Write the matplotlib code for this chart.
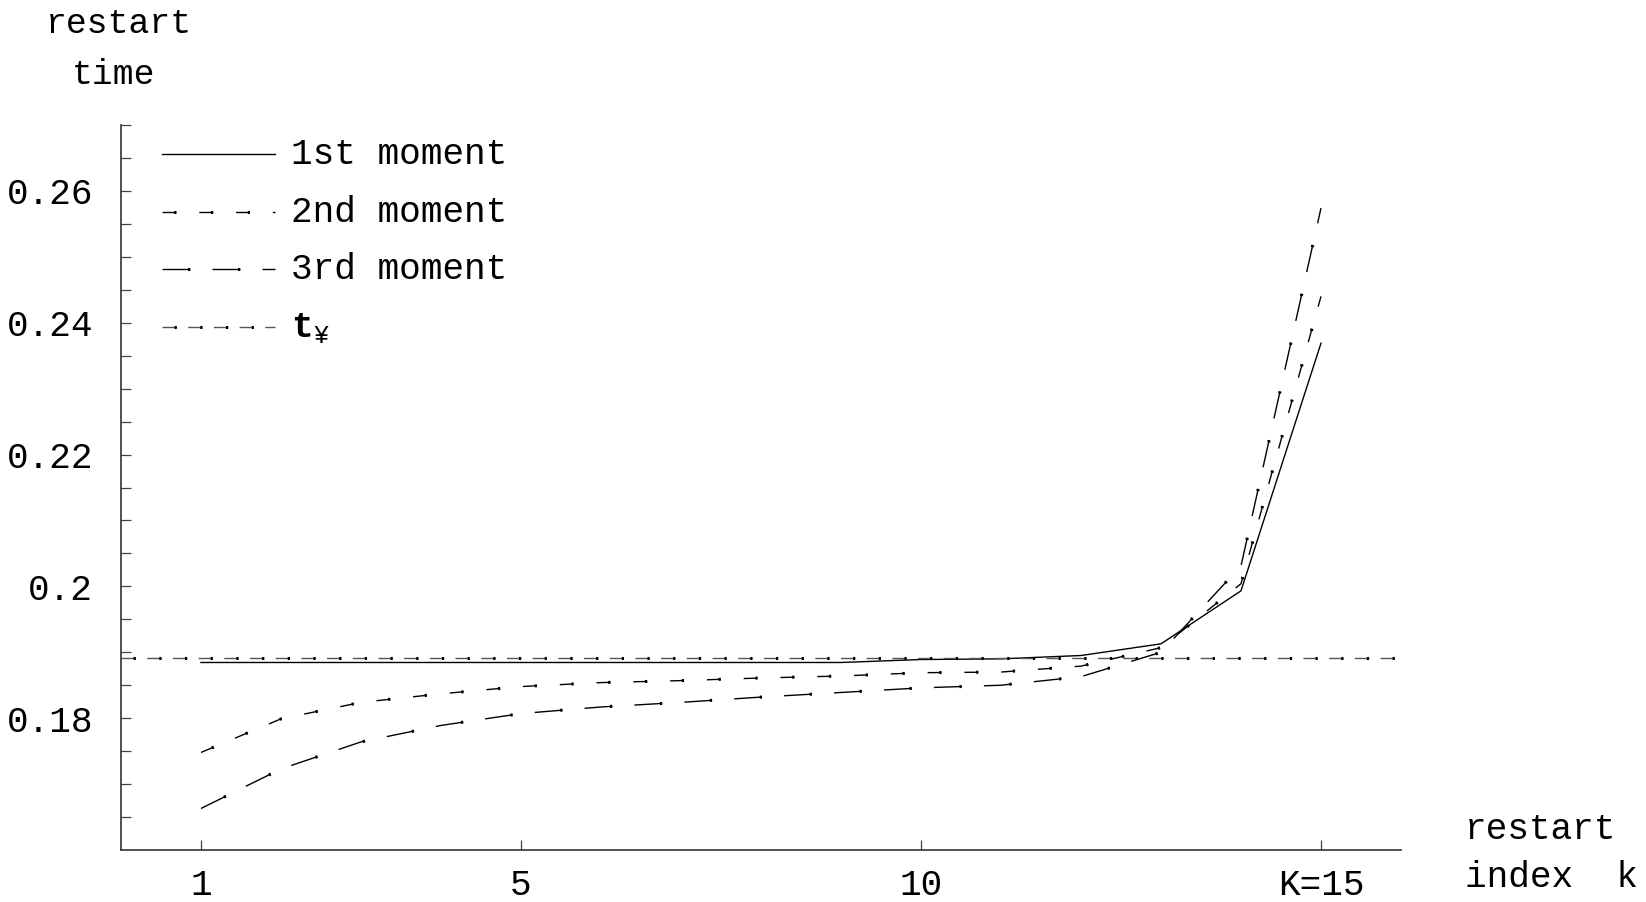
import numpy as np
import matplotlib
matplotlib.use("Agg")
import matplotlib.pyplot as plt

# restart index k and the computed restart times
k = [1, 2, 3, 4, 5, 6, 7, 8, 9, 10, 11, 12, 13, 14, 15]
first_moment = [0.18845, 0.18845, 0.18845, 0.18845, 0.18845, 0.18845, 0.18845, 0.18845,
                0.18845, 0.1889, 0.1890, 0.18951, 0.19128, 0.19932, 0.2369]
second_moment = [0.1748, 0.1799, 0.1824, 0.1837, 0.1848, 0.1854, 0.1857, 0.1861,
                 0.1864, 0.1869, 0.1870, 0.1879, 0.1907, 0.2004, 0.2440]
third_moment = [0.1663, 0.1723, 0.1764, 0.1789, 0.1807, 0.1817, 0.1824, 0.1832,
                0.1839, 0.1846, 0.1850, 0.1863, 0.1900, 0.2031, 0.2574]
t_inf = 0.1891

xtick_pos = [1, 5, 10, 15]
xtick_labels = ["1", "5", "10", "K=15"]
ytick_major = [0.18, 0.2, 0.22, 0.24, 0.26]
ytick_major_labels = ["0.18", "0.2", "0.22", "0.24", "0.26"]

legend_labels = ["1st moment", "2nd moment", "3rd moment", r"$\mathbf{t}_{¥}$"]

plt.rcParams["font.family"] = ["Liberation Mono", "DejaVu Sans Mono"]
plt.rcParams["mathtext.fontset"] = "custom"
plt.rcParams["mathtext.rm"] = "Liberation Mono"
plt.rcParams["mathtext.bf"] = "Liberation Mono:bold"
plt.rcParams["lines.scale_dashes"] = False

FS = 26
DOT = 1.6

fig = plt.figure(figsize=(16.46, 9.02), dpi=100)
W, H = 1646, 902
ax = fig.add_axes([121 / W, 1 - 850 / H, 1280 / W, 725 / H])


def dashed_with_dots(x, y, on, off, color="black", **kw):
    # dashed line, plus a small dot sitting at the end of every dash
    period = on + off
    ax.plot(x, y, color=color, lw=1.0, linestyle=(0, (on, off)),
            dash_capstyle="butt", **kw)
    ax.plot(x, y, color="black", lw=2.2,
            linestyle=(period - on + DOT, (DOT, period - DOT)),
            dash_capstyle="butt", **kw)


styles = [None, (10, 16.5, "black"), (20, 16, "black"), (10.3, 8.2, "#555555")]

ax.plot(k, first_moment, color="black", lw=1.0)
dashed_with_dots(k, second_moment, *styles[1])
dashed_with_dots(k, third_moment, *styles[2])
dashed_with_dots([0, 16], [t_inf, t_inf], *styles[3])

ax.set_xlim(0, 16)
ax.set_ylim(0.16, 0.27)

for side in ["top", "right"]:
    ax.spines[side].set_visible(False)
for side in ["left", "bottom"]:
    ax.spines[side].set_color("#333333")
    ax.spines[side].set_linewidth(1.2)

ax.set_xticks(xtick_pos)
ax.set_xticklabels(xtick_labels)
yt = np.round(np.arange(0.165, 0.2701, 0.005), 3)
ylabels = []
for v in yt:
    lab = ""
    for m, ml in zip(ytick_major, ytick_major_labels):
        if abs(v - m) < 1e-9:
            lab = ml
    ylabels.append(lab)
ax.set_yticks(yt)
ax.set_yticklabels(ylabels)
ax.tick_params(axis="both", direction="in", length=7, width=0.9, color="#444444",
               labelsize=FS)
ax.tick_params(axis="x", pad=13)
ax.tick_params(axis="y", pad=20)

# hand-drawn legend in the upper left corner
row_y = [154, 212, 269, 327]
x0, x1 = (162 - 121) / 1280, (275 - 121) / 1280
for i, (lab, ry) in enumerate(zip(legend_labels, row_y)):
    yy = (850 - ry) / 725
    if styles[i] is None:
        ax.plot([x0, x1], [yy, yy], color="black", lw=1.0, transform=ax.transAxes)
    else:
        dashed_with_dots([x0, x1], [yy, yy], *styles[i], transform=ax.transAxes)
    ax.text((291 - 121) / 1280, yy, lab, fontsize=FS, ha="left", va="center",
            transform=ax.transAxes)

fig.text(46 / W, 1 - 33 / H, "restart", fontsize=25, ha="left", va="baseline")
fig.text(72 / W, 1 - 84 / H, "time", fontsize=25, ha="left", va="baseline")
fig.text(1465 / W, 1 - 839 / H, "restart", fontsize=FS, ha="left", va="baseline")
fig.text(1465 / W, 1 - 887 / H, "index  k", fontsize=FS, ha="left", va="baseline")

fig.savefig("out.png", dpi=100)
